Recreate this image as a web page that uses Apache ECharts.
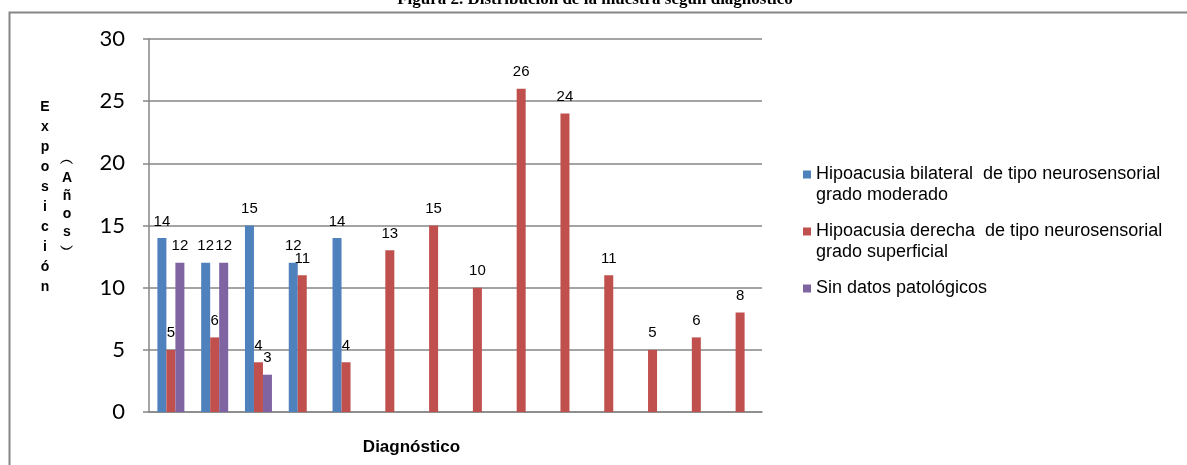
<!DOCTYPE html>
<html>
<head>
<meta charset="utf-8">
<script src="https://cdn.jsdelivr.net/npm/echarts@6/dist/echarts.min.js"></script>
<style>html,body{margin:0;padding:0;background:#fff}#c{width:1187px;height:465px}</style>
</head>
<body>
<div id="c"></div>
<script>
const categories = ["D1","D2","D3","D4","D5","D6","D7","D8","D9","D10","D11","D12","D13","D14"];
const bilateral = [14, 12, 15, 12, 14, null, null, null, null, null, null, null, null, null];
const derecha = [5, 6, 4, 11, 4, 13, 15, 10, 26, 24, 11, 5, 6, 8];
const sinDatos = [12, 12, 3, null, null, null, null, null, null, null, null, null, null, null];
const seriesNames = [
  "Hipoacusia bilateral  de tipo neurosensorial grado moderado",
  "Hipoacusia derecha  de tipo neurosensorial grado superficial",
  "Sin datos patológicos"
];
const yTicks = [0, 5, 10, 15, 20, 25, 30];
const titleText = "Figura 2. Distribución de la muestra según diagnóstico";
const yName1 = "Exposición";
const yName2 = "(Años)";
const xName = "Diagnóstico";

const chart = echarts.init(document.getElementById('c'), null, {renderer: 'canvas'});
const label = {show: true, position: 'top', distance: 9, color: '#000', fontSize: 15, fontFamily: 'Liberation Sans'};
const colors = ['#4F81BD', '#C0504D', '#8064A2'];
const wrapName = n => {
  if (n.indexOf('neurosensorial ') > -1) return '\n' + n.replace('neurosensorial ', 'neurosensorial\n');
  return '\n' + n + '\n';
};
const stackChars = s => s.split('').map(c => c === '(' ? '︵' : c === ')' ? '︶' : c).join('\n');

chart.setOption({
  animation: false,
  color: colors,
  grid: {left: 149, right: 425, top: 39, bottom: 53, containLabel: false},
  xAxis: {
    type: 'category',
    data: categories,
    axisLine: {lineStyle: {color: '#868686', width: 1.5}},
    axisTick: {show: false},
    axisLabel: {show: false},
    name: xName,
    nameLocation: 'middle',
    nameGap: 27,
    nameTextStyle: {fontFamily: 'Liberation Sans', fontWeight: 'bold', fontSize: 17, color: '#000', padding: [0, 88, 0, 0]}
  },
  yAxis: {
    type: 'value',
    min: yTicks[0],
    max: yTicks[yTicks.length - 1],
    interval: 5,
    axisLine: {show: true, lineStyle: {color: '#868686', width: 1.5}},
    axisTick: {show: true, length: 6, lineStyle: {color: '#868686', width: 1.5}},
    axisLabel: {fontFamily: 'Lato', fontSize: 22, color: '#000', margin: 24},
    splitLine: {lineStyle: {color: '#868686', width: 1.5}}
  },
  legend: {
    orient: 'vertical',
    left: 803,
    top: 143,
    padding: 0,
    itemGap: -6,
    itemWidth: 8,
    itemHeight: 8,
    itemTextGap: 5,
    icon: 'rect',
    formatter: wrapName,
    textStyle: {fontFamily: 'Liberation Sans', fontSize: 18, color: '#000', lineHeight: 21},
    data: seriesNames
  },
  graphic: [
    {type: 'rect', left: 7, top: 10, shape: {x: 0, y: 0, width: 1200, height: 470}, style: {fill: 'none', stroke: '#868686', lineWidth: 2}, z: 100},
    {type: 'text', x: 595, y: -9, style: {text: titleText, textAlign: 'center', textVerticalAlign: 'top', font: 'bold 17px "Liberation Serif"', fill: '#000'}},
    {type: 'text', x: 45, y: 97, style: {text: stackChars(yName1), textAlign: 'center', textVerticalAlign: 'top', font: 'bold 14px "Liberation Sans"', lineHeight: 20, fill: '#000'}},
    {type: 'text', x: 67, y: 151, style: {text: stackChars(yName2), textAlign: 'center', textVerticalAlign: 'top', font: 'bold 14px "Liberation Sans"', lineHeight: 18, fill: '#000'}}
  ],
  series: [
    {name: seriesNames[0], type: 'bar', data: bilateral, barWidth: 9, barGap: '0%', barCategoryGap: '38%', label: label},
    {name: seriesNames[1], type: 'bar', data: derecha, barWidth: 9, barGap: '0%', barCategoryGap: '38%', label: label},
    {name: seriesNames[2], type: 'bar', data: sinDatos, barWidth: 9, barGap: '0%', barCategoryGap: '38%', label: label}
  ]
});
</script>
</body>
</html>
